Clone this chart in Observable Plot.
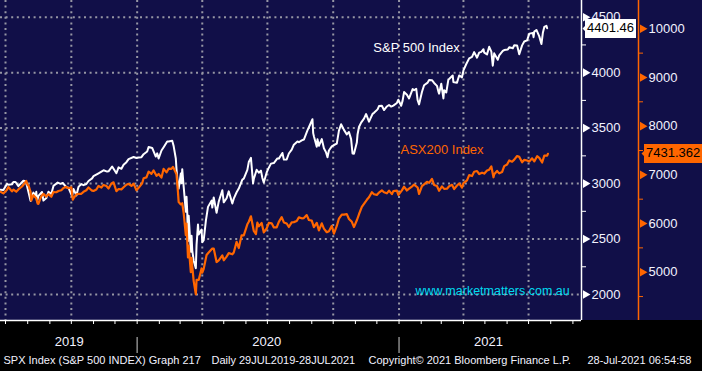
<!DOCTYPE html>
<html><head><meta charset="utf-8">
<script src="https://cdn.jsdelivr.net/npm/d3@7"></script>
<script src="https://cdn.jsdelivr.net/npm/@observablehq/plot@0.6"></script>
<style>
html,body{margin:0;padding:0;background:#000;}
#chart svg{display:block}
</style></head><body><div id="chart"></div>
<script>
// S&P 500 (left-hand/white axis)
const spx = [
["2019-06-24",2945],["2019-06-28",2942],["2019-07-03",2996],["2019-07-05",2990],["2019-07-10",2993],["2019-07-12",3014],["2019-07-15",3014],["2019-07-19",2977],["2019-07-23",3005],["2019-07-26",3026],["2019-07-29",3021],["2019-07-31",2980],["2019-08-01",2953],["2019-08-05",2844],["2019-08-07",2884],["2019-08-09",2919],["2019-08-12",2883],["2019-08-13",2926],["2019-08-14",2840],["2019-08-16",2889],["2019-08-21",2924],["2019-08-23",2847],["2019-08-27",2869],["2019-08-30",2926],["2019-09-03",2906],["2019-09-06",2979],["2019-09-12",3009],["2019-09-16",2998],["2019-09-19",3006],["2019-09-24",2967],["2019-09-27",2962],["2019-10-02",2887],["2019-10-04",2952],["2019-10-08",2893],["2019-10-11",2970],["2019-10-15",2996],["2019-10-18",2986],["2019-10-22",2996],["2019-10-25",3023],["2019-10-30",3047],["2019-11-01",3067],["2019-11-08",3093],["2019-11-15",3120],["2019-11-20",3108],["2019-11-22",3110],["2019-11-27",3154],["2019-12-03",3093],["2019-12-06",3146],["2019-12-10",3133],["2019-12-13",3169],["2019-12-17",3193],["2019-12-20",3221],["2019-12-27",3240],["2019-12-31",3231],
["2020-01-03",3235],["2020-01-07",3238],["2020-01-10",3265],["2020-01-15",3289],["2020-01-17",3330],["2020-01-22",3321],["2020-01-27",3244],["2020-01-29",3273],["2020-01-31",3226],["2020-02-04",3298],["2020-02-07",3328],["2020-02-12",3380],["2020-02-14",3380],["2020-02-19",3386],["2020-02-21",3338],["2020-02-24",3226],["2020-02-25",3128],["2020-02-27",2979],["2020-02-28",2954],["2020-03-02",3090],["2020-03-03",3003],["2020-03-04",3130],["2020-03-06",2972],["2020-03-09",2747],["2020-03-10",2882],["2020-03-11",2741],["2020-03-12",2481],["2020-03-13",2711],["2020-03-16",2386],["2020-03-17",2529],["2020-03-18",2398],["2020-03-20",2305],["2020-03-23",2237],["2020-03-24",2447],["2020-03-26",2630],["2020-03-27",2541],["2020-03-31",2585],["2020-04-01",2471],["2020-04-03",2489],["2020-04-06",2664],["2020-04-09",2790],["2020-04-14",2846],["2020-04-15",2784],["2020-04-17",2875],["2020-04-21",2737],["2020-04-24",2837],["2020-04-29",2940],["2020-05-01",2831],["2020-05-05",2868],["2020-05-08",2930],["2020-05-13",2820],["2020-05-15",2864],["2020-05-19",2922],["2020-05-22",2955],["2020-05-27",3036],["2020-05-29",3044],["2020-06-03",3123],["2020-06-05",3194],["2020-06-08",3232],["2020-06-11",3002],["2020-06-12",3041],["2020-06-16",3125],["2020-06-19",3098],["2020-06-22",3117],["2020-06-24",3050],["2020-06-26",3009],["2020-06-30",3100],["2020-07-02",3130],["2020-07-06",3180],["2020-07-10",3185],["2020-07-15",3227],["2020-07-17",3225],["2020-07-22",3276],["2020-07-24",3216],["2020-07-28",3218],["2020-07-31",3271],["2020-08-04",3306],["2020-08-07",3351],["2020-08-12",3380],["2020-08-14",3373],["2020-08-18",3390],["2020-08-21",3397],["2020-08-26",3479],["2020-08-28",3508],["2020-09-02",3580],["2020-09-03",3455],["2020-09-04",3427],["2020-09-08",3332],["2020-09-09",3399],["2020-09-11",3341],["2020-09-15",3401],["2020-09-18",3319],["2020-09-21",3281],["2020-09-23",3237],["2020-09-25",3298],["2020-09-29",3335],["2020-10-02",3348],["2020-10-06",3361],["2020-10-09",3477],["2020-10-12",3535],["2020-10-16",3484],["2020-10-20",3443],["2020-10-23",3465],["2020-10-26",3401],["2020-10-28",3271],["2020-10-30",3270],["2020-11-03",3370],["2020-11-04",3443],["2020-11-06",3510],["2020-11-09",3550],["2020-11-13",3585],["2020-11-16",3627],["2020-11-20",3558],["2020-11-25",3629],["2020-11-27",3638],["2020-12-02",3669],["2020-12-04",3699],["2020-12-08",3702],["2020-12-11",3663],["2020-12-15",3695],["2020-12-18",3709],["2020-12-21",3694],["2020-12-24",3703],["2020-12-29",3727],["2020-12-31",3756],
["2021-01-04",3701],["2021-01-06",3748],["2021-01-08",3825],["2021-01-12",3801],["2021-01-15",3768],["2021-01-20",3852],["2021-01-22",3841],["2021-01-25",3855],["2021-01-27",3751],["2021-01-29",3714],["2021-02-02",3826],["2021-02-05",3887],["2021-02-10",3910],["2021-02-12",3934],["2021-02-16",3932],["2021-02-19",3907],["2021-02-23",3881],["2021-02-25",3829],["2021-02-26",3811],["2021-03-01",3901],["2021-03-04",3768],["2021-03-05",3842],["2021-03-08",3821],["2021-03-11",3939],["2021-03-12",3943],["2021-03-17",3974],["2021-03-18",3915],["2021-03-19",3913],["2021-03-23",3910],["2021-03-26",3975],["2021-03-30",3958],["2021-04-01",4020],["2021-04-05",4078],["2021-04-09",4129],["2021-04-13",4142],["2021-04-16",4185],["2021-04-20",4135],["2021-04-23",4180],["2021-04-26",4188],["2021-04-29",4211],["2021-04-30",4181],["2021-05-04",4165],["2021-05-07",4233],["2021-05-10",4189],["2021-05-12",4063],["2021-05-14",4174],["2021-05-19",4116],["2021-05-21",4156],["2021-05-26",4196],["2021-05-28",4204],["2021-06-02",4208],["2021-06-04",4230],["2021-06-09",4220],["2021-06-11",4247],["2021-06-15",4246],["2021-06-18",4166],["2021-06-22",4246],["2021-06-25",4281],["2021-06-29",4291],["2021-07-02",4352],["2021-07-07",4358],["2021-07-08",4320],["2021-07-09",4370],["2021-07-12",4385],["2021-07-16",4327],["2021-07-19",4258],["2021-07-21",4359],["2021-07-23",4412],["2021-07-26",4422],["2021-07-27",4401]
];
// ASX200 (right-hand/orange axis)
const asx = [
["2019-06-24",6652],["2019-06-28",6619],["2019-07-03",6696],["2019-07-05",6751],["2019-07-10",6660],["2019-07-12",6696],["2019-07-16",6653],["2019-07-19",6700],["2019-07-24",6760],["2019-07-26",6795],["2019-07-30",6875],["2019-08-01",6788],["2019-08-02",6789],["2019-08-05",6649],["2019-08-06",6469],["2019-08-09",6583],["2019-08-13",6518],["2019-08-15",6408],["2019-08-16",6405],["2019-08-20",6562],["2019-08-23",6609],["2019-08-27",6553],["2019-08-30",6604],["2019-09-03",6550],["2019-09-06",6647],["2019-09-10",6642],["2019-09-13",6669],["2019-09-17",6683],["2019-09-20",6730],["2019-09-24",6754],["2019-09-27",6725],["2019-10-01",6743],["2019-10-03",6491],["2019-10-04",6517],["2019-10-08",6600],["2019-10-11",6609],["2019-10-15",6611],["2019-10-18",6651],["2019-10-22",6683],["2019-10-25",6741],["2019-10-30",6674],["2019-11-01",6669],["2019-11-05",6699],["2019-11-08",6772],["2019-11-12",6740],["2019-11-15",6793],["2019-11-19",6770],["2019-11-22",6719],["2019-11-26",6823],["2019-11-29",6846],["2019-12-03",6663],["2019-12-06",6709],["2019-12-10",6702],["2019-12-13",6744],["2019-12-17",6797],["2019-12-20",6816],["2019-12-24",6772],["2019-12-27",6821],["2019-12-31",6684],
["2020-01-03",6733],["2020-01-08",6827],["2020-01-10",6929],["2020-01-14",6948],["2020-01-17",7065],["2020-01-21",7022],["2020-01-24",7090],["2020-01-28",6980],["2020-01-31",7017],["2020-02-04",6943],["2020-02-07",7123],["2020-02-11",7051],["2020-02-14",7126],["2020-02-18",7124],["2020-02-20",7162],["2020-02-21",7139],["2020-02-25",7010],["2020-02-27",6651],["2020-02-28",6441],["2020-03-02",6393],["2020-03-04",6416],["2020-03-06",6216],["2020-03-09",5760],["2020-03-10",6000],["2020-03-12",5304],["2020-03-13",5539],["2020-03-16",5002],["2020-03-17",5293],["2020-03-18",5126],["2020-03-20",4817],["2020-03-23",4546],["2020-03-24",4842],["2020-03-27",4842],["2020-03-31",5077],["2020-04-01",4991],["2020-04-03",5068],["2020-04-07",5353],["2020-04-09",5388],["2020-04-15",5487],["2020-04-17",5487],["2020-04-21",5209],["2020-04-24",5243],["2020-04-29",5347],["2020-05-01",5245],["2020-05-05",5321],["2020-05-08",5391],["2020-05-13",5368],["2020-05-15",5405],["2020-05-19",5625],["2020-05-22",5497],["2020-05-26",5759],["2020-05-29",5755],["2020-06-03",5984],["2020-06-05",6036],["2020-06-08",6149],["2020-06-12",5847],["2020-06-15",5784],["2020-06-17",6018],["2020-06-19",5942],["2020-06-23",6010],["2020-06-26",5818],["2020-06-30",5898],["2020-07-03",6014],["2020-07-07",6004],["2020-07-10",5920],["2020-07-14",5919],["2020-07-17",6034],["2020-07-21",6131],["2020-07-24",6023],["2020-07-28",6000],["2020-07-31",5928],["2020-08-04",6023],["2020-08-07",6029],["2020-08-11",6052],["2020-08-14",6127],["2020-08-18",6107],["2020-08-21",6111],["2020-08-25",6173],["2020-08-28",6072],["2020-09-01",6060],["2020-09-04",5925],["2020-09-08",6014],["2020-09-11",5859],["2020-09-15",6004],["2020-09-18",5896],["2020-09-22",5821],["2020-09-25",5843],["2020-09-29",5952],["2020-10-02",5791],["2020-10-06",5950],["2020-10-09",6102],["2020-10-13",6184],["2020-10-16",6182],["2020-10-20",6194],["2020-10-23",6094],["2020-10-27",6035],["2020-10-30",5927],["2020-11-03",6067],["2020-11-06",6190],["2020-11-10",6341],["2020-11-13",6405],["2020-11-17",6487],["2020-11-20",6539],["2020-11-24",6644],["2020-11-27",6601],["2020-12-01",6588],["2020-12-04",6635],["2020-12-08",6681],["2020-12-11",6642],["2020-12-15",6620],["2020-12-18",6676],["2020-12-22",6603],["2020-12-24",6665],["2020-12-29",6677],["2020-12-31",6587],
["2021-01-05",6680],["2021-01-08",6757],["2021-01-12",6679],["2021-01-15",6715],["2021-01-19",6760],["2021-01-22",6800],["2021-01-27",6740],["2021-01-29",6607],["2021-02-02",6767],["2021-02-05",6805],["2021-02-09",6856],["2021-02-12",6835],["2021-02-16",6917],["2021-02-19",6793],["2021-02-23",6770],["2021-02-26",6673],["2021-03-02",6763],["2021-03-05",6711],["2021-03-09",6714],["2021-03-12",6767],["2021-03-16",6795],["2021-03-19",6708],["2021-03-23",6780],["2021-03-26",6824],["2021-03-30",6739],["2021-04-01",6828],["2021-04-06",6885],["2021-04-09",6995],["2021-04-13",6976],["2021-04-16",7063],["2021-04-20",7078],["2021-04-23",7017],["2021-04-27",7045],["2021-04-30",7025],["2021-05-04",7087],["2021-05-07",7105],["2021-05-10",7172],["2021-05-13",6950],["2021-05-14",7014],["2021-05-18",7080],["2021-05-21",7030],["2021-05-25",7058],["2021-05-28",7179],["2021-06-01",7211],["2021-06-04",7296],["2021-06-08",7269],["2021-06-11",7312],["2021-06-15",7386],["2021-06-18",7369],["2021-06-22",7259],["2021-06-25",7308],["2021-06-29",7294],["2021-07-02",7274],["2021-07-06",7339],["2021-07-09",7277],["2021-07-13",7382],["2021-07-16",7348],["2021-07-20",7253],["2021-07-23",7394],["2021-07-27",7395],["2021-07-28",7431]
];
const spxMajorTicks = [2000, 2500, 3000, 3500, 4000, 4500];
const spxMinorTicks = [2250, 2750, 3250, 3750, 4250];
const asxMajorTicks = [5000, 6000, 7000, 8000, 9000, 10000];
const asxMinorTicks = [4500, 5500, 6500, 7500, 8500, 9500];
const quarterStarts = ["2019-07-01","2019-10-01","2020-01-01","2020-04-01","2020-07-01","2020-10-01","2021-01-01","2021-04-01","2021-07-01"];
const yearStarts = ["2020-01-01","2021-01-01"];
const yearLabels = [{date:"2019-09-28", label:"2019"}, {date:"2020-06-30", label:"2020"}, {date:"2021-05-06", label:"2021"}];
const spxName = {date:"2020-11-26", value:4227, label:"S&P 500 Index"};
const asxName = {date:"2021-01-03", value:7521, label:"ASX200 Index"};
const watermark = {date:"2021-01-24", value:2036, label:"www.marketmatters.com.au"};
const spxLast = {value:4401.46, label:"4401.46"};
const asxLast = {value:7431.362, label:"7431.362"};
const footer = [
  {text:"SPX Index (S&P 500 INDEX) Graph 217", x:3},
  {text:"Daily 29JUL2019-28JUL2021", x:211},
  {text:"Copyright\u00A9 2021 Bloomberg Finance L.P.", x:368},
  {text:"28-Jul-2021 06:54:58", x:587}
];

const xDomain = [new Date("2019-06-24"), new Date("2021-09-13")];
const spxDomain = [1765.6, 4650.6];
const asxDomain = [4008, 10581];
const asxToSpx = d3.scaleLinear().domain(asxDomain).range(spxDomain);

const spxData = spx.map(([d, v]) => ({date: new Date(d), value: v}));
const asxData = asx.map(([d, v]) => ({date: new Date(d), value: v}));

const NAVY = "#110f48", ORANGE = "#ff6600", GRID = "#9696a4", TXT = "#f2f2ff";
const gridStyle = {stroke: GRID, strokeWidth: 2, strokeDasharray: "2,3.6"};

const chart = Plot.plot({
  width: 702, height: 371,
  marginTop: 0, marginLeft: 0, marginRight: 121, marginBottom: 51,
  style: {
    background: `linear-gradient(to bottom, ${NAVY} 0px, ${NAVY} 320px, #000 320px)`,
    color: TXT, fontFamily: "'Liberation Sans', Arial, sans-serif", fontSize: "13px", overflow: "visible"
  },
  x: {type: "utc", domain: xDomain, label: null},
  y: {domain: spxDomain, label: null},
  marks: [
    Plot.ruleY(spxMajorTicks, gridStyle),
    Plot.ruleX(quarterStarts.map(d => new Date(d)), gridStyle),
    Plot.line(spxData, {x: "date", y: "value", stroke: "#ffffff", strokeWidth: 2, strokeLinejoin: "round"}),
    Plot.line(asxData, {x: "date", y: d => asxToSpx(d.value), stroke: ORANGE, strokeWidth: 2.2, strokeLinejoin: "round"}),
    Plot.ruleY([spxDomain[0]], {stroke: "white", strokeWidth: 1.5}),
    Plot.ruleX([xDomain[1]], {stroke: "white", strokeWidth: 1.5}),
    Plot.ruleX([xDomain[1]], {stroke: ORANGE, strokeWidth: 1.5, dx: 57}),
    Plot.axisX({anchor: "bottom", ticks: d3.utcMonths(new Date("2019-07-01"), new Date("2021-09-02")), tickSize: 4, tickFormat: () => "", stroke: "white", label: null}),
    Plot.axisY({anchor: "right", ticks: spxMinorTicks, tickSize: 4, tickFormat: () => "", stroke: "white", label: null}),
    Plot.axisY({anchor: "right", ticks: spxMajorTicks, tickSize: 0, tickPadding: 10, tickFormat: d => String(d), fill: TXT, fontSize: 13, label: null}),
    Plot.dot(spxMajorTicks, {y: d => d, frameAnchor: "right", symbol: "triangle", r: 3.2, rotate: 90, fill: "white", stroke: "none", dx: 4}),
    Plot.axisY({anchor: "right", ticks: asxMinorTicks.map(asxToSpx), tickSize: 4, tickFormat: () => "", stroke: ORANGE, dx: 57, label: null}),
    Plot.axisY({anchor: "right", ticks: asxMajorTicks.map(asxToSpx), tickSize: 0, tickPadding: 10, dx: 57, tickFormat: d => String(Math.round(asxToSpx.invert(d))), fill: TXT, fontSize: 13, label: null}),
    Plot.dot(asxMajorTicks, {y: d => asxToSpx(d), frameAnchor: "right", symbol: "triangle", r: 3.2, rotate: 90, fill: ORANGE, stroke: "none", dx: 61}),
    Plot.text(yearLabels, {x: d => new Date(d.date), text: "label", frameAnchor: "bottom", dy: 25, fill: TXT, fontSize: 13}),
    Plot.ruleX(yearStarts.map(d => new Date(d)), {stroke: "#8a8a8a", strokeWidth: 1.5, insetTop: 304, dy: 33}),
    ...footer.map(f => Plot.text([f.text], {text: d => d, frameAnchor: "bottom-left", textAnchor: "start", dx: f.x, dy: 43, fill: TXT, fontSize: 11})),
    Plot.text([spxName], {x: d => new Date(d.date), y: "value", text: "label", textAnchor: "start", fill: "white", fontSize: 13}),
    Plot.text([asxName], {x: d => new Date(d.date), y: d => asxToSpx(d.value), text: "label", textAnchor: "start", fill: ORANGE, fontSize: 13}),
    Plot.text([watermark], {x: d => new Date(d.date), y: "value", text: "label", textAnchor: "start", fill: "#00dcf0", fontSize: 12.5}),
    Plot.tip([spxLast], {y: "value", frameAnchor: "right", dx: 1, anchor: "left", title: "label", fill: "white", stroke: "none", pointerSize: 5, textPadding: 2, lineHeight: 1.1, fontSize: 13, pathFilter: "none"}),
    Plot.tip([asxLast], {y: d => asxToSpx(d.value), frameAnchor: "right", dx: 60, anchor: "left", title: "label", fill: ORANGE, stroke: "none", pointerSize: 5, textPadding: 2, lineHeight: 1.1, fontSize: 13, pathFilter: "none"})
  ]
});
d3.select(chart).selectAll('g[aria-label="tip"] text, g[aria-label="tip"] tspan').attr("fill", "#000").style("fill", "#000");
// drop the empty label nodes left by label-less tick axes
d3.select(chart).selectAll("text").filter(function () { return this.textContent.trim() === ""; }).remove();
document.getElementById("chart").append(chart);
</script></body></html>
